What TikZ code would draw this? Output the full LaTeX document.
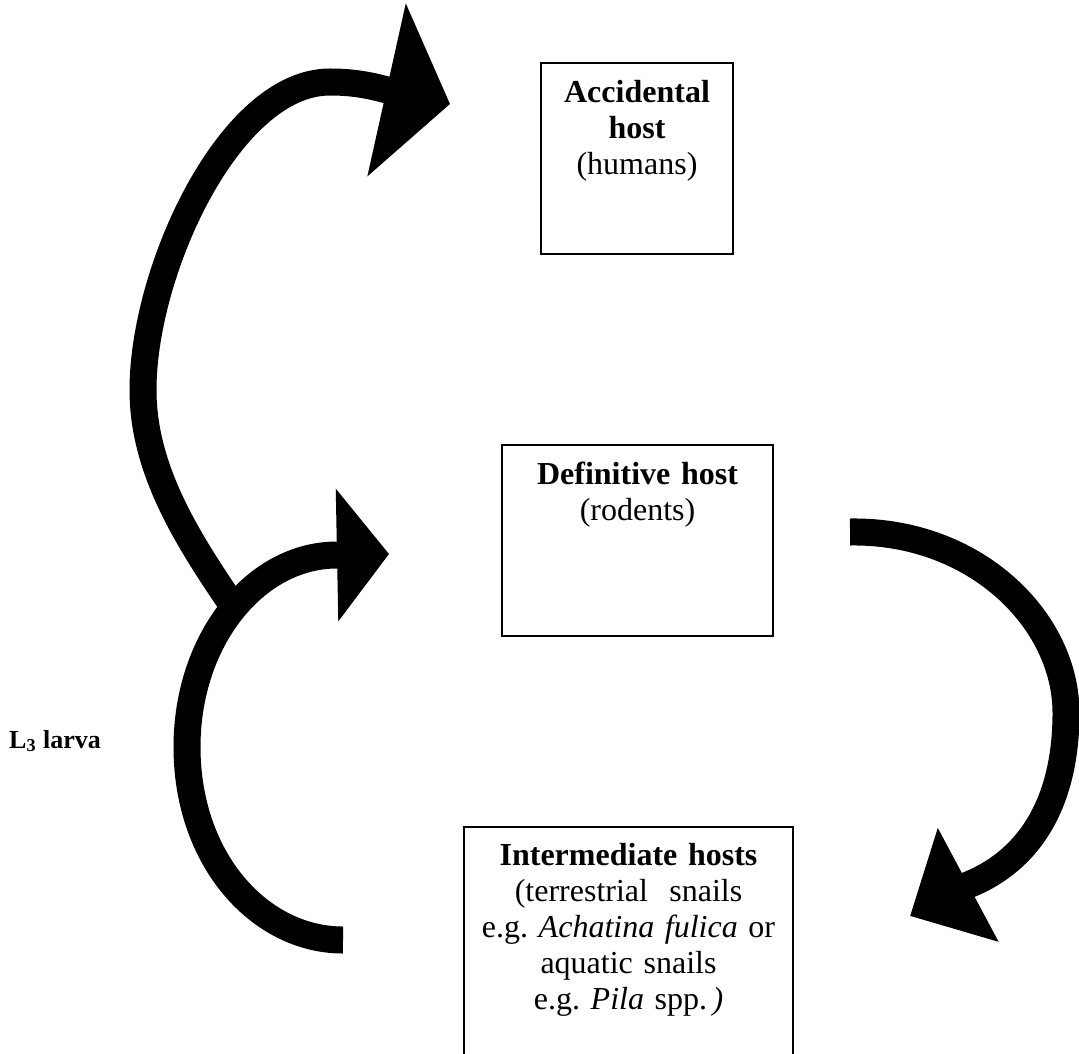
\documentclass[tikz,border=0pt]{standalone}
\usepackage{fontspec}
\setmainfont{Liberation Serif}
\usetikzlibrary{arrows.meta}
\frenchspacing

\begin{document}
\begin{tikzpicture}[
      x=0.5pt, y=-0.5pt,
      box/.style={draw,line width=0.8pt,inner sep=0pt,align=center,
                  font=\fontsize{16}{18}\selectfont,text height=20pt},
      cyc/.style={line width=13.5pt},
      lbl/.style={font=\bfseries\fontsize{13}{15}\selectfont},
    ]
    \useasboundingbox (0,0) rectangle (1079,1053);
    \clip (0,0) rectangle (1079,1053);
    % hosts
    \node[box,anchor=north,text width=96pt,text depth=75.5pt] (acc) at (637,62)
      {\textbf{Accidental}\\\textbf{host}\\(humans)};
    \node[box,anchor=north,text width=135.5pt,text depth=75.5pt] (def) at (637.5,444)
      {\textbf{Definitive host}\\(rodents)};
    \node[box,anchor=north,text width=164.5pt,text height=19.5pt,text depth=100pt] (int) at (628.5,826)
      {\textbf{Intermediate hosts}\\(terrestrial\ \ snails\\e.g. \textit{Achatina fulica} or\\aquatic snails\\e.g. \textit{Pila} spp.\,\textit{)}};
    \node[lbl,anchor=base east] (larva) at (108,748) {L\textsubscript{3} larva};
    % arc ends
    \coordinate (up0) at (233,606);
    \coordinate (up1) at (450,104);
    \coordinate (lo0) at (343,940);
    \coordinate (lo1) at (389,554);
    \coordinate (rt0) at (850,532);
    \coordinate (rt1) at (910,916);
    % cycle
    \draw[cyc,-{Triangle[length=32.5pt,width=87pt]}] (up0) .. controls (188,540) and (143,470) .. (143,390)
      .. controls (143,270) and (230,82) .. (330,82) .. controls (355,82) and (372,86) .. (387,90) -- (up1);
    \draw[cyc,-{Triangle[length=26pt,width=65pt]}] (lo0) .. controls (260,940) and (187,860) .. (187,747)
      .. controls (187,640) and (255,555) .. (337,555) -- (lo1);
    \draw[cyc,-{Triangle[length=33pt,width=62.5pt]}] (rt0) .. controls (975,530) and (1066,620) .. (1066,713)
      .. controls (1066,795) and (1035,858) .. (968,885) -- (rt1);
  \end{tikzpicture}
\end{document}
